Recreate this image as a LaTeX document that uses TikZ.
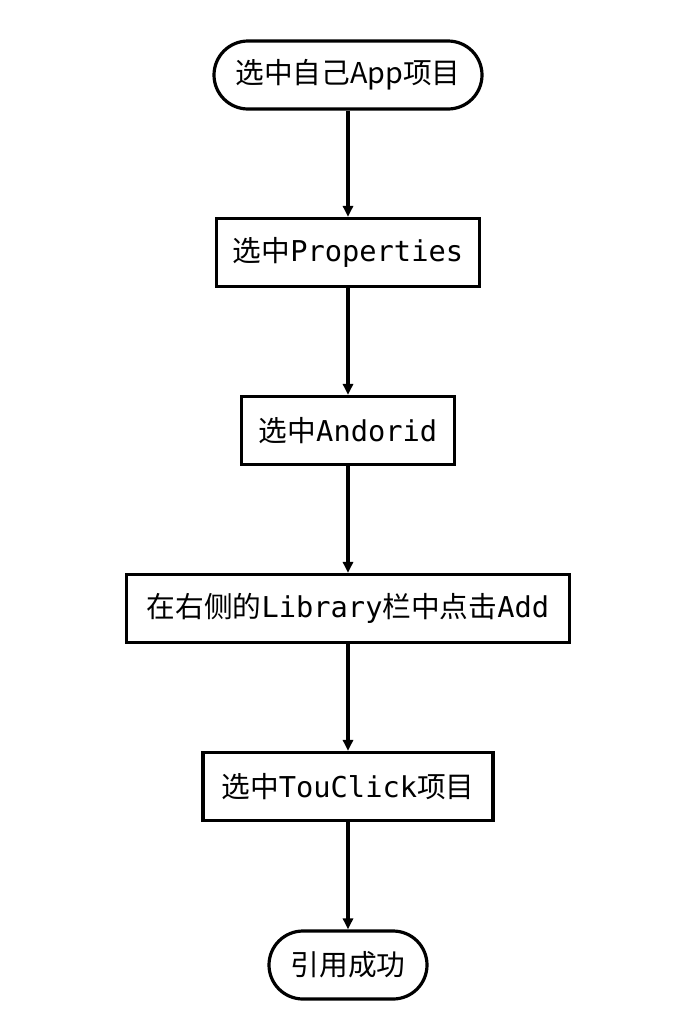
\documentclass[tikz,border=0pt]{standalone}
\usepackage{fontspec}
\setmainfont{Noto Sans CJK SC}
\setmonofont{DejaVu Sans Mono}
\usetikzlibrary{arrows.meta}

\tikzset{
  stepbox/.style={draw, line width=3.2pt, minimum height=68pt, inner sep=0pt, font=\fontsize{28.7}{32}\selectfont},
  endbox/.style={stepbox, rounded corners=34pt},
  flow/.style={line width=3.2pt, -{Triangle[length=11pt,width=10pt]}}
}

\begin{document}
\begin{tikzpicture}[x=1pt,y=-1pt]
  \useasboundingbox (0, 0) rectangle (698, 1012);

  \node[endbox, minimum width=268pt] (app) at (348, 75) {选中自己App项目};
  \node[stepbox, minimum width=263pt] (prop) at (348, 252.5) {选中\texttt{Properties}};
  \node[stepbox, minimum width=213pt] (andr) at (348, 430.5) {选中\texttt{Andorid}};
  \node[stepbox, minimum width=443pt] (lib) at (348, 608.5) {在右侧的\texttt{Library}栏中点击\texttt{Add}};
  \node[stepbox, minimum width=290pt] (tou) at (348, 786.5) {选中\texttt{TouClick}项目};
  \node[endbox, minimum width=158pt] (done) at (348, 965) {引用成功};

  \draw[flow] (app) -- (prop);
  \draw[flow] (prop) -- (andr);
  \draw[flow] (andr) -- (lib);
  \draw[flow] (lib) -- (tou);
  \draw[flow] (tou) -- (done);

\end{tikzpicture}
\end{document}
